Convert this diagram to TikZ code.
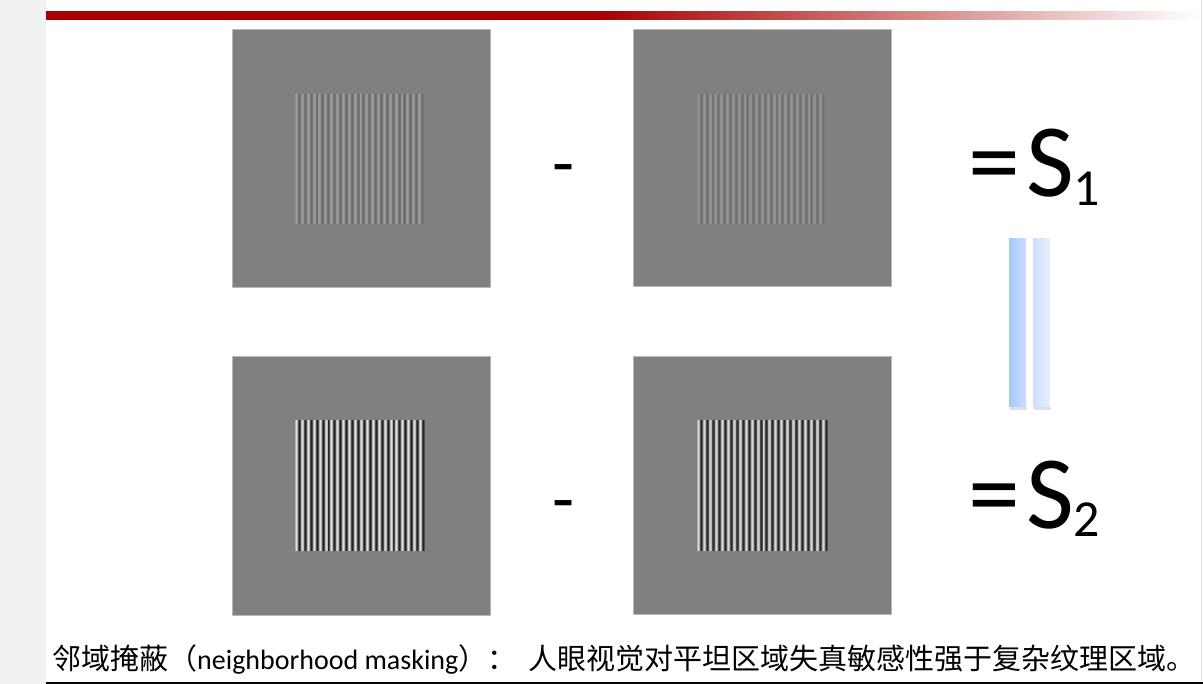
\documentclass[tikz,border=0pt]{standalone}
\usepackage{fontspec}
\setmainfont{Carlito}
\newfontfamily\cjk{Noto Sans CJK SC}
\newcommand\mysubfont{\fontsize{52}{52}\selectfont}
\newcommand\cjksize{\fontsize{29}{29}\selectfont}
\definecolor{leftstrip}{HTML}{F0F1F3}
\definecolor{barred}{HTML}{A80000}
\definecolor{imggray}{HTML}{808080}
\definecolor{imgedge}{HTML}{BDB8B4}
\definecolor{baseline}{HTML}{B8AEA8}
\definecolor{blueA}{HTML}{A9C7FF}
\definecolor{blueB}{HTML}{C9DCFF}
\definecolor{blueC}{HTML}{CCDEFF}
\definecolor{blueD}{HTML}{E8F0FF}
\pgfdeclarehorizontalshading{redbar}{100bp}{color(0bp)=(barred); color(25bp)=(barred); color(49bp)=(barred); color(75bp)=(white); color(100bp)=(white)}
% grating: x0, y0, width, height, periods, light colour, dark colour
\newcommand\mygrating[7]{%
  \colorlet{grlight}{#6}%
  \colorlet{grdark}{#7}%
  \colorlet{grlighthalf}{grlight!55!imggray}%
  \colorlet{grdarkhalf}{grdark!55!imggray}%
  \pgfmathsetmacro\gp{#3/#5}%
  \foreach \i in {1,...,#5}{%
    \pgfmathsetmacro\xa{#1+(\i-1)*\gp}%
    \pgfmathsetmacro\xb{\xa+\gp/6}%
    \pgfmathsetmacro\xc{\xa+\gp/3}%
    \pgfmathsetmacro\xd{\xa+\gp/2}%
    \pgfmathsetmacro\xe{\xa+2*\gp/3}%
    \pgfmathsetmacro\xf{\xa+5*\gp/6}%
    \pgfmathsetmacro\xg{\xa+\gp}%
    \fill[grlighthalf] (\xa,#2) rectangle (\xd,#2+#4);
    \fill[grlight] (\xb,#2) rectangle (\xc,#2+#4);
    \fill[grdarkhalf] (\xd,#2) rectangle (\xg,#2+#4);
    \fill[grdark] (\xe,#2) rectangle (\xf,#2+#4);
  }}
\tikzset{
  imgbox/.style={fill=imggray, draw=imgedge, line width=1},
  bigtext/.style={anchor=base west, inner sep=0, font=\fontsize{104}{104}\selectfont},
  minus/.style={anchor=base, inner sep=0, font=\fontsize{72}{72}\selectfont},
  caption/.style={anchor=base west, inner sep=0, font=\fontsize{28}{28}\selectfont}
}
\begin{document}
\begin{tikzpicture}[x=1pt,y=-1pt]
\useasboundingbox (0,0) rectangle (1203,684);
\fill[white] (0,0) rectangle (1203,684);
\fill[leftstrip] (0,0) rectangle (46,684);
% top red bar
\shade[shading=redbar] (46,11.5) rectangle (1200,19.5);
% frame lines
\draw[gray!25, line width=1] (1201,0) -- (1201,684);
\draw[baseline, line width=1.2] (46,683) -- (1203,683);
% images
\path[imgbox] (232.5,29.5) rectangle (490.5,288);
\path[imgbox] (633.5,29.5) rectangle (891.5,287);
\path[imgbox] (232.5,356.5) rectangle (490.5,615);
\path[imgbox] (633.5,356.5) rectangle (891.5,614);
\mygrating{295}{94}{129}{130}{22}{black!38}{black!58}
\mygrating{697}{94}{128}{130}{22}{black!41}{black!56}
\mygrating{295}{420}{130}{131}{22}{black!12}{black!86}
\mygrating{697}{420}{131}{131}{22}{black!15}{black!84}
% minus signs
\node[minus] (m1) at (564,188) {-};
\node[minus] (m2) at (564,524) {-};
% results
\node[bigtext] (s1) at (968,197) {=\hspace{7pt}S\hspace{-1pt}\raisebox{-9pt}{\mysubfont 1}};
\node[bigtext] (s2) at (968,529) {=\hspace{7pt}S\hspace{-1pt}\raisebox{-8pt}{\mysubfont 2}};
% vertical equals sign
\fill[black, opacity=0.12] (1010,407) rectangle (1027,410);
\fill[black, opacity=0.12] (1034,407) rectangle (1051,410);
\shade[left color=blueA, right color=blueB] (1009,239) rectangle (1026,407);
\shade[left color=blueC, right color=blueD] (1033,239) rectangle (1050,407);
% caption
\node[caption] (cap) at (52,669) {{\cjk\cjksize 邻域掩蔽（}neighborhood masking{\cjk\cjksize ）：\hspace{12pt}人眼视觉对平坦区域失真敏感性强于复杂纹理区域。}};
\end{tikzpicture}
\end{document}
